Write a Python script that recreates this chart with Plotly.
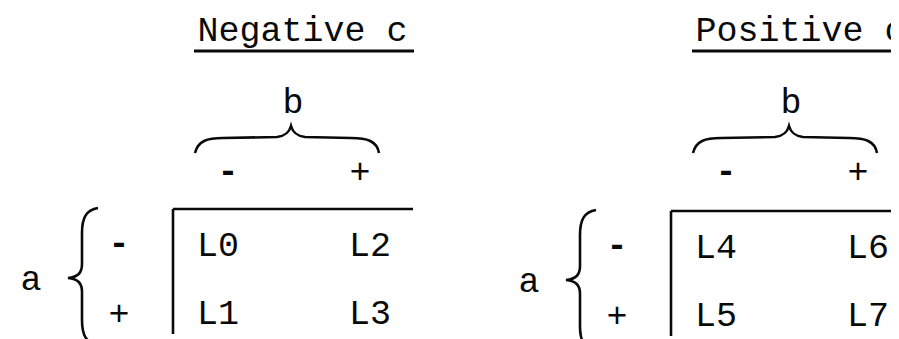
import plotly.graph_objects as go

# ---- data ----
panel_titles = ["Negative c", "Positive c"]
row_variable = "a"
col_variable = "b"
row_signs = ["-", "+"]
col_signs = ["-", "+"]
cells_negative_c = [["L0", "L2"], ["L1", "L3"]]
cells_positive_c = [["L4", "L6"], ["L5", "L7"]]
panel_cells = [cells_negative_c, cells_positive_c]

# ---- layout constants (pixels in a 899x339 canvas) ----
W, H = 899, 339
FONT = "Courier New, Liberation Mono, monospace"
FS = 35
INK = "#0a0a0a"
panel_dx = [0, 498]
panel_dy = [0, 2]

fig = go.Figure()
shapes = []

def add_text(xs, ys, texts, size=FS, weight="normal"):
    fig.add_trace(go.Scatter(
        x=xs, y=ys, text=texts, mode="text",
        textposition="middle center",
        textfont=dict(family=FONT, size=size, color=INK, weight=weight),
        hoverinfo="skip", showlegend=False, cliponaxis=False,
    ))

def add_signs(xs, ys, signs):
    # typewriter hyphens are heavy; plus signs are normal weight
    for x, y, s in zip(xs, ys, signs):
        add_text([x], [y], [s], weight="bold" if s == "-" else "normal")

def line(x0, y0, x1, y1, w=2.6):
    shapes.append(dict(type="line", x0=x0, y0=y0, x1=x1, y1=y1,
                       xref="x", yref="y", line=dict(color=INK, width=w)))

def path(d, w=2.6):
    shapes.append(dict(type="path", path=d, xref="x", yref="y",
                       line=dict(color=INK, width=w)))

for p, title in enumerate(panel_titles):
    dx = panel_dx[p]
    dy = panel_dy[p]
    # title and underline
    tx = 294.5 + dx
    add_text([tx], [24], [title])
    line(186 + dx, 43, 406 + dx, 43, w=2.8)

    # column variable and horizontal brace
    add_text([285 + dx], [96], [col_variable])
    L, R, T = 187 + dx, 371 + dx, 283 + dx
    path(f"M {L},145 C {L+3},133 {L+12},130 {L+28},130 "
         f"L {T-14},129 C {T-6},128 {T-2},125 {T},118 "
         f"C {T+2},125 {T+6},128 {T+14},129 "
         f"L {R-28},130 C {R-12},130 {R-2},133 {R},145")

    # column signs
    add_signs([220 + dx, 352 + dx], [165, 166], col_signs)

    # table frame
    vx = 165 + dx
    line(vx, 201 + dy, vx, 326 + dy)
    line(vx, 201 + dy, 405 + dx if p == 0 else W + 5, 201 + dy)

    # row variable and vertical brace
    add_text([23 + dx], [273 + dy], [row_variable])
    top, bot, tip = 200 + dy, 337 + dy + (4 if p else 0), 270 + dy
    bx, sx, px = 90 + dx, 74 + dx, 60 + dx
    path(f"M {bx},{top} C {sx+4},{top+2} {sx},{top+10} {sx},{top+25} "
         f"L {sx},{tip-14} C {sx},{tip-5} {sx-4},{tip-1} {px},{tip} "
         f"C {sx-4},{tip+1} {sx},{tip+5} {sx},{tip+14} "
         f"L {sx},{bot-25} C {sx},{bot-10} {sx+4},{bot-2} {bx},{bot}")

    # row signs
    add_signs([111 + dx, 111 + dx], [237 + dy, 308 + dy], row_signs)

    # cells
    cx = [210 + dx, 362 + dx]
    ry = [239 + dy, 307 + dy]
    xs, ys, ts = [], [], []
    for i, row in enumerate(panel_cells[p]):
        for j, lab in enumerate(row):
            xs.append(cx[j]); ys.append(ry[i]); ts.append(lab)
    add_text(xs, ys, ts)

fig.update_layout(
    width=W, height=H,
    margin=dict(l=0, r=0, t=0, b=0),
    paper_bgcolor="white", plot_bgcolor="white",
    xaxis=dict(range=[0, W], visible=False, fixedrange=True),
    yaxis=dict(range=[H, 0], visible=False, fixedrange=True),
    shapes=shapes,
    showlegend=False,
)

fig.write_html("out.html")
